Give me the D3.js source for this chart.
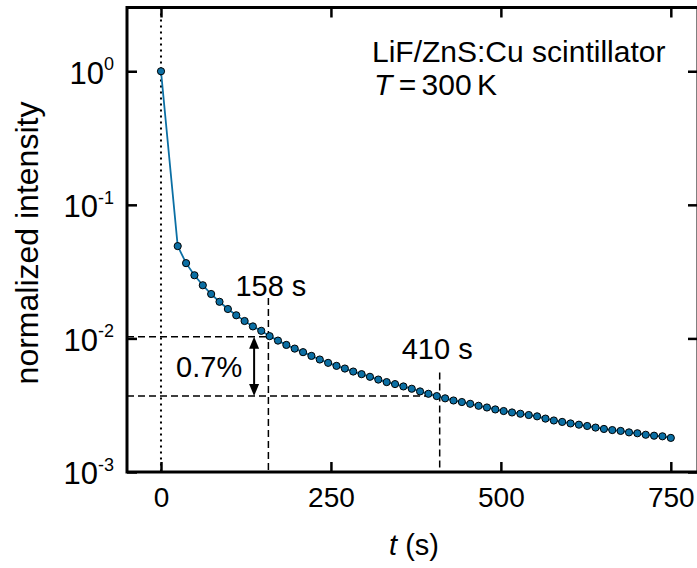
<!DOCTYPE html>
<html>
<head>
<meta charset="utf-8">
<script src="https://cdn.jsdelivr.net/npm/d3@7"></script>
<style>
  body { margin: 0; background: #fff; }
  svg { display: block; font-family: "Liberation Sans", Arial, sans-serif; }
</style>
</head>
<body>
<svg id="chart"></svg>
<script>
// time after irradiation (s)
const times = [0, 24.6, 36.9, 49.2, 61.5, 73.8, 86.1, 98.4, 110.7, 123.0, 135.2, 147.5,
  159.8, 172.1, 184.4, 196.7, 209.0, 221.3, 233.6, 245.9, 258.2, 270.5, 282.8, 295.1,
  307.4, 319.7, 332.0, 344.3, 356.6, 368.9, 381.1, 393.4, 405.7, 418.0, 430.3, 442.6,
  454.9, 467.2, 479.5, 491.8, 504.1, 516.4, 528.7, 541.0, 553.3, 565.6, 577.9, 590.2,
  602.5, 614.8, 627.0, 639.3, 651.6, 663.9, 676.2, 688.5, 700.8, 713.1, 725.4, 737.7, 750]
// normalized intensity
const intensity = [1.0, 0.0491, 0.0366, 0.0297, 0.0250, 0.0215, 0.0188, 0.0166, 0.0149,
  0.0135, 0.0123, 0.0114, 0.0104, 0.00963, 0.00894, 0.00839, 0.00789, 0.00740, 0.00695,
  0.00656, 0.00623, 0.00595, 0.00565, 0.00540, 0.00516, 0.00492, 0.00471, 0.00455,
  0.00437, 0.00420, 0.00401, 0.00385, 0.00370, 0.00356, 0.00343, 0.00334, 0.00324,
  0.00313, 0.00304, 0.00294, 0.00286, 0.00279, 0.00273, 0.00267, 0.00261, 0.00251,
  0.00243, 0.00237, 0.00231, 0.00226, 0.00221, 0.00215, 0.00210, 0.00206, 0.00203,
  0.00198, 0.00195, 0.00190, 0.00187, 0.00185, 0.00180]

const xTicks = [0, 250, 500, 750]
const yTicks = [1, 0.1, 0.01, 0.001]
const yTickExp = ['0', '-1', '-2', '-3']

// marked times and levels
const markTimes = [158, 410]
const markLevels = [0.0103, 0.0037]
const markTops = [0.0201, 0.00555]
const markLabels = ['158 s', '410 s']
const arrowTime = 137
const arrowLabel = '0.7%'

const width = 697, height = 568
const mLeft = 127, mRight = 698, mTop = 7.5, mBottom = 472
const blue = '#0b6fa4'

const svg = d3.select('#chart').attr('width', width).attr('height', height)

const x = d3.scaleLinear().domain([-50, 790]).range([mLeft, mRight])
const y = d3.scaleLog().domain([0.001, 3]).range([mBottom, mTop])

// t = 0 dotted line
svg.append('line')
  .attr('x1', x(0)).attr('x2', x(0))
  .attr('y1', mTop).attr('y2', mBottom)
  .attr('stroke', '#000').attr('stroke-width', 2)
  .attr('stroke-dasharray', '2,4')

// dashed guides
const dash = '7,4'
markTimes.forEach((t, i) => {
  svg.append('line')
    .attr('x1', mLeft).attr('x2', x(t))
    .attr('y1', y(markLevels[i])).attr('y2', y(markLevels[i]))
    .attr('stroke', '#000').attr('stroke-width', 1.5)
    .attr('stroke-dasharray', dash)
  svg.append('line')
    .attr('x1', x(t)).attr('x2', x(t))
    .attr('y1', y(markTops[i])).attr('y2', mBottom)
    .attr('stroke', '#000').attr('stroke-width', 1.5)
    .attr('stroke-dasharray', dash)
})

// data line + markers
const line = d3.line()
  .x((d, i) => x(times[i]))
  .y(d => y(d))

svg.append('path')
  .datum(intensity)
  .attr('d', line)
  .attr('fill', 'none')
  .attr('stroke', blue)
  .attr('stroke-width', 1.8)

svg.selectAll('.dot').data(intensity).enter()
  .append('circle').attr('class', 'dot')
  .attr('cx', (d, i) => x(times[i]))
  .attr('cy', d => y(d))
  .attr('r', 3.6)
  .attr('fill', blue)
  .attr('stroke', '#000')
  .attr('stroke-width', 1)

// double arrow
const ax = x(arrowTime)
const ay1 = y(markLevels[0]), ay2 = y(markLevels[1])
const headL = 12, headW = 5
svg.append('line')
  .attr('x1', ax).attr('x2', ax)
  .attr('y1', ay1 + headL - 2).attr('y2', ay2 - headL + 2)
  .attr('stroke', '#000').attr('stroke-width', 2)
svg.append('path')
  .attr('d', `M${ax},${ay1}L${ax - headW},${ay1 + headL}L${ax + headW},${ay1 + headL}Z`)
  .attr('fill', '#000')
svg.append('path')
  .attr('d', `M${ax},${ay2}L${ax - headW},${ay2 - headL}L${ax + headW},${ay2 - headL}Z`)
  .attr('fill', '#000')

// axes
const xAxis = svg.append('g')
  .attr('transform', `translate(0,${mBottom})`)
  .call(d3.axisBottom(x).tickValues(xTicks).tickSizeInner(-10).tickSizeOuter(0).tickPadding(15))
const xTop = svg.append('g')
  .attr('transform', `translate(0,${mTop})`)
  .call(d3.axisTop(x).tickValues(xTicks).tickSizeInner(-10).tickSizeOuter(0).tickFormat(''))
const yAxis = svg.append('g')
  .attr('transform', `translate(${mLeft},0)`)
  .call(d3.axisLeft(y).tickValues(yTicks).tickSizeInner(-10).tickSizeOuter(0).tickPadding(13).tickFormat(''))
const yRight = svg.append('g')
  .attr('transform', `translate(${mRight},0)`)
  .call(d3.axisRight(y).tickValues(yTicks).tickSizeInner(-10).tickSizeOuter(0).tickFormat(''))

;[xAxis, xTop, yAxis, yRight].forEach(g => {
  g.select('.domain').remove()
  g.selectAll('.tick line').attr('stroke', '#000').attr('stroke-width', 2.5)
})
xAxis.selectAll('.tick text')
  .attr('font-size', 28).attr('fill', '#000')
  .attr('font-family', '"Liberation Sans", Arial, sans-serif')

yAxis.selectAll('.tick text')
  .attr('font-size', 31).attr('fill', '#000')
  .attr('font-family', '"Liberation Sans", Arial, sans-serif')
  .attr('dy', '0.38em')
  .each(function (d, i) {
    const t = d3.select(this)
    t.append('tspan').text('10')
    t.append('tspan').attr('font-size', 18).attr('dy', '-0.75em').text(yTickExp[i])
  })

// frame
svg.append('rect')
  .attr('x', mLeft).attr('y', mTop)
  .attr('width', mRight - mLeft).attr('height', mBottom - mTop)
  .attr('fill', 'none').attr('stroke', '#000').attr('stroke-width', 3)

// axis titles
svg.append('text')
  .attr('transform', `translate(38,243) rotate(-90)`)
  .attr('text-anchor', 'middle')
  .attr('font-size', 32)
  .text('normalized intensity')

const xt = svg.append('text')
  .attr('x', 414).attr('y', 555)
  .attr('text-anchor', 'middle')
  .attr('font-size', 29)
xt.append('tspan').attr('font-style', 'italic').text('t')
xt.append('tspan').text(' (s)')

// annotations
svg.append('text')
  .attr('x', 372).attr('y', 62)
  .attr('font-size', 30)
  .text('LiF/ZnS:Cu scintillator')
const tt = svg.append('text')
  .attr('x', 374).attr('y', 95)
  .attr('font-size', 30)
tt.append('tspan').attr('font-style', 'italic').text('T')
tt.append('tspan').attr('dx', -2).text(' =')
tt.append('tspan').attr('dx', -3).text(' 300')
tt.append('tspan').attr('dx', -3).text(' K')

const labelDx = [-33, -38]
markTimes.forEach((t, i) => {
  svg.append('text')
    .attr('x', x(t) + labelDx[i]).attr('y', y(markTops[i]) - (i === 0 ? 2 : 14))
    .attr('font-size', 29)
    .text(markLabels[i])
})

svg.append('text')
  .attr('x', ax - 78).attr('y', (ay1 + ay2) / 2 + 11)
  .attr('font-size', 29)
  .text(arrowLabel)
</script>
</body>
</html>
